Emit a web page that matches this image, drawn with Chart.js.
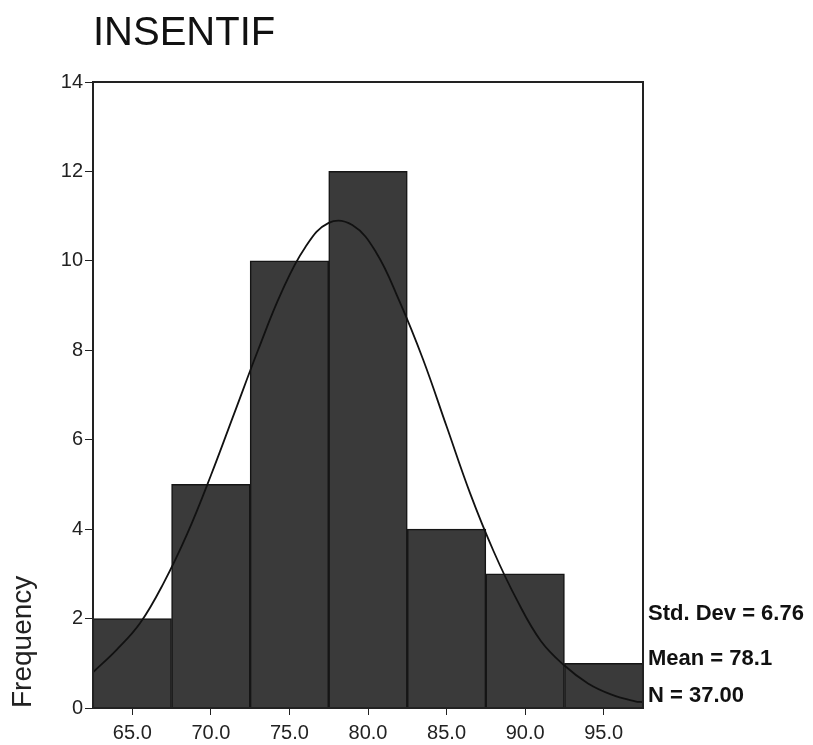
<!DOCTYPE html>
<html>
<head>
<meta charset="utf-8">
<script src="https://cdn.jsdelivr.net/npm/chart.js@4/dist/chart.umd.min.js"></script>
<style>
    body { margin: 0; background: #fff; }
    #wrap { width: 813px; height: 745px; }
</style>
</head>
<body>
<div id="wrap"><canvas id="hist" width="813" height="745"></canvas></div>
<script>
// Histogram data (bin centers, bin width 5)
const binCenters = [65, 70, 75, 80, 85, 90, 95];
const frequencies = [2, 5, 10, 12, 4, 3, 1];

// Fitted normal curve
const curveX = [62.5, 64, 65.5, 67, 68.5, 70, 71.5, 73, 74.5, 76, 77.5, 79, 80.5, 82, 83.5, 85, 86.5, 88, 89.5, 91, 92.5, 94, 95.5, 97, 97.5];
const curveY = [0.8, 1.3, 1.9, 2.8, 3.9, 5.2, 6.6, 8.0, 9.3, 10.3, 10.85, 10.8, 10.2, 9.1, 7.8, 6.3, 4.8, 3.5, 2.4, 1.5, 0.95, 0.55, 0.3, 0.15, 0.13];

// Axis ticks
const xTicks = [65, 70, 75, 80, 85, 90, 95];
const yTicks = [0, 2, 4, 6, 8, 10, 12, 14];

// Text
const chartTitle = 'INSENTIF';
const yTitle = 'Frequency';
const statLines = ['Std. Dev = 6.76', 'Mean = 78.1', 'N = 37.00'];

const fontFamily = 'Arial, "Liberation Sans", Helvetica, sans-serif';

// Frame, title, rotated axis title and stats box
const decorPlugin = {
    id: 'decor',
    afterDraw(chart) {
        const { ctx, chartArea } = chart;
        ctx.save();
        ctx.strokeStyle = '#222';
        ctx.lineWidth = 2;
        ctx.strokeRect(chartArea.left, chartArea.top, chartArea.right - chartArea.left, chartArea.bottom - chartArea.top);

        ctx.fillStyle = '#111';
        ctx.textBaseline = 'alphabetic';
        ctx.textAlign = 'left';
        ctx.font = '40px ' + fontFamily;
        ctx.fillText(chartTitle, 93, 45);

        ctx.font = 'bold 22px ' + fontFamily;
        const baselines = [620, 665, 702];
        statLines.forEach((t, i) => ctx.fillText(t, 648, baselines[i]));

        ctx.translate(31, chartArea.bottom);
        ctx.rotate(-Math.PI / 2);
        ctx.font = '28px ' + fontFamily;
        ctx.fillStyle = '#222';
        ctx.fillText(yTitle, 0, 0);
        ctx.restore();
    }
};

const ctx = document.getElementById('hist').getContext('2d');
new Chart(ctx, {
    type: 'bar',
    data: {
        datasets: [
            {
                type: 'line',
                data: curveX.map((x, i) => ({ x: x, y: curveY[i] })),
                borderColor: '#111',
                borderWidth: 1.8,
                pointRadius: 0,
                tension: 0.4,
                fill: false,
                order: 0
            },
            {
                type: 'bar',
                data: binCenters.map((x, i) => ({ x: x, y: frequencies[i] })),
                backgroundColor: '#3a3a3a',
                borderColor: '#151515',
                borderWidth: 1.5,
                barPercentage: 1,
                categoryPercentage: 1,
                order: 1
            }
        ]
    },
    options: {
        responsive: false,
        animation: false,
        layout: { padding: { top: 82, right: 170, bottom: 0, left: 0 } },
        plugins: {
            legend: { display: false },
            tooltip: { enabled: false }
        },
        scales: {
            x: {
                type: 'linear',
                min: 62.5,
                max: 97.5,
                offset: false,
                afterBuildTicks(scale) { scale.ticks = xTicks.map(v => ({ value: v })); },
                afterFit(scale) { scale.height = 37; },
                grid: { drawOnChartArea: false, drawTicks: true, tickLength: 7, color: '#222', offset: false },
                border: { display: true, color: '#222', width: 2 },
                ticks: {
                    color: '#222',
                    padding: 6,
                    maxRotation: 0,
                    font: { family: fontFamily, size: 20 },
                    callback: v => Number(v).toFixed(1)
                }
            },
            y: {
                type: 'linear',
                min: 0,
                max: 14,
                afterBuildTicks(scale) { scale.ticks = yTicks.map(v => ({ value: v })); },
                afterFit(scale) { scale.width = 93; },
                grid: { drawOnChartArea: false, drawTicks: true, tickLength: 8, color: '#222' },
                border: { display: true, color: '#222', width: 2 },
                ticks: {
                    color: '#222',
                    padding: 2,
                    font: { family: fontFamily, size: 20 }
                }
            }
        }
    },
    plugins: [decorPlugin]
});
</script>
</body>
</html>
